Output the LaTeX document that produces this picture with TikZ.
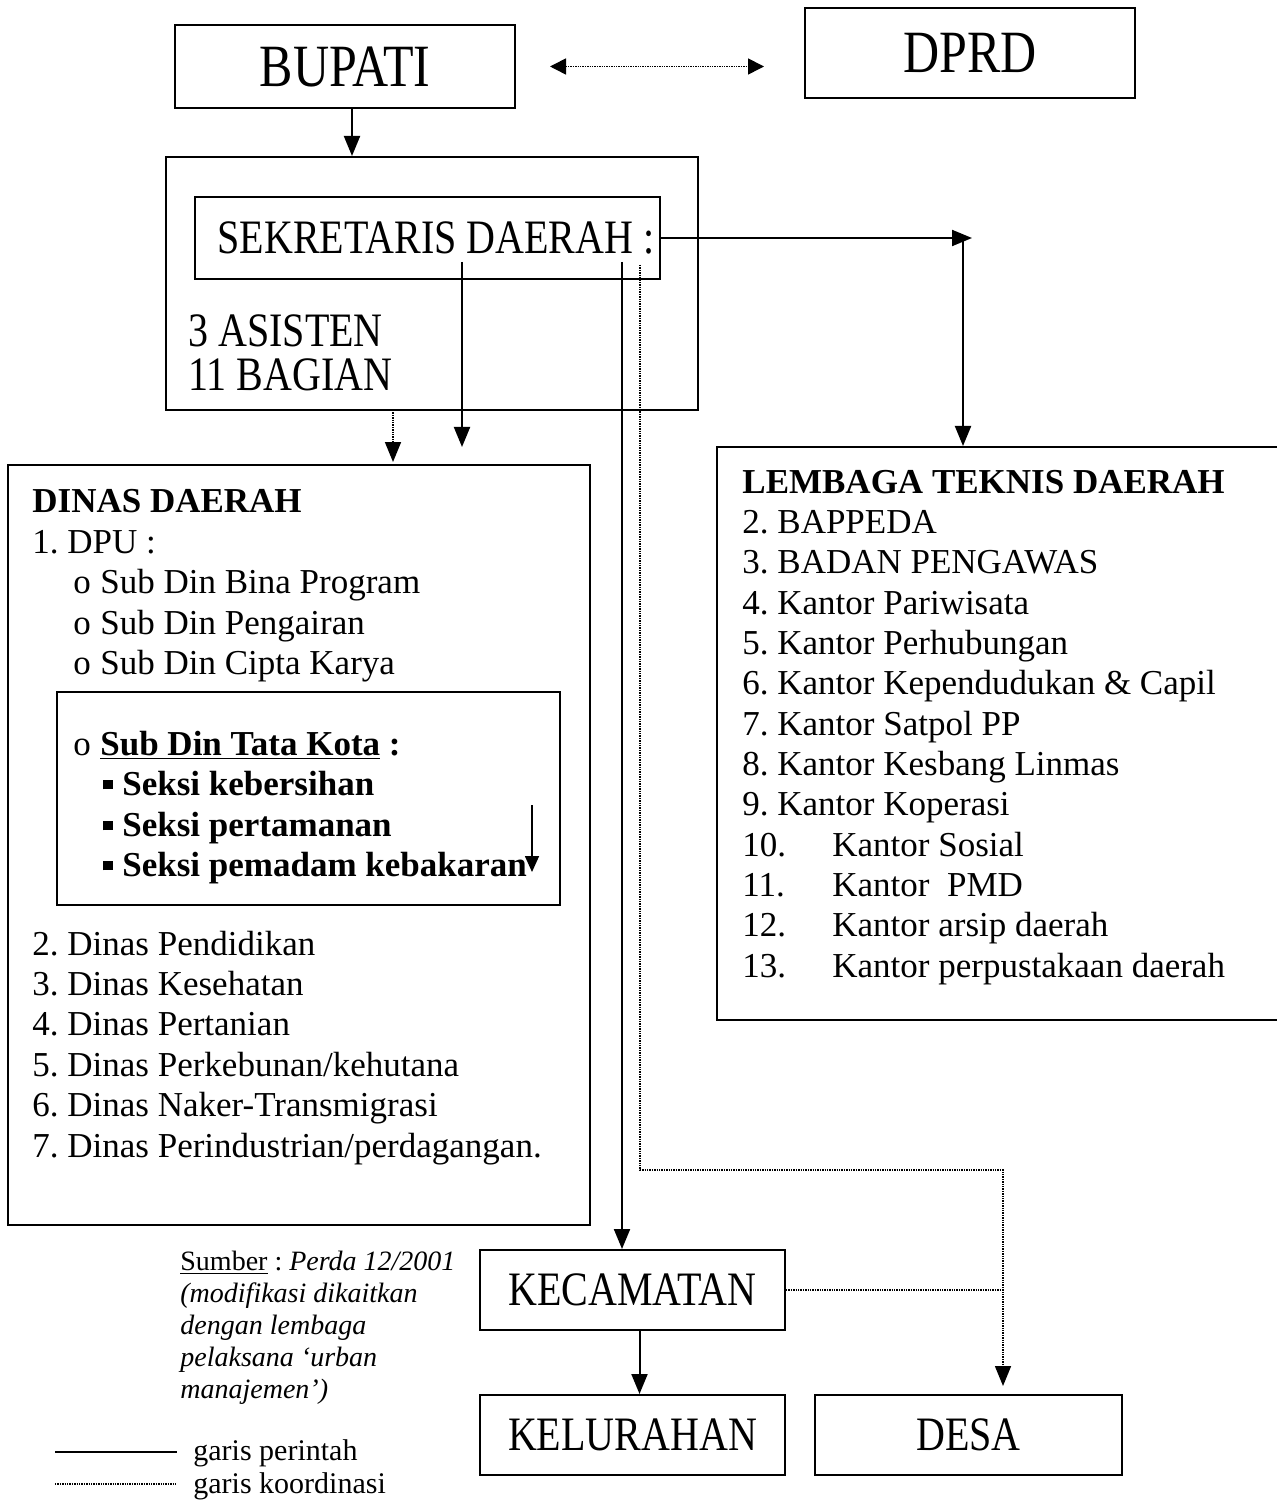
\documentclass[tikz,border=0pt]{standalone}
\usepackage{fontspec}
\setmainfont{Liberation Serif}
\usetikzlibrary{arrows.meta}
\newcommand{\sqbul}{\rule[0.16em]{0.26em}{0.26em}}
\newcommand{\bigtxt}[1]{\scalebox{1}[1.2]{#1}}
\frenchspacing
\begin{document}
\begin{tikzpicture}[x=0.5pt,y=-0.5pt,
  box/.style={draw, line width=1pt, inner sep=0pt},
  cmd/.style={line width=1pt, -{Triangle[length=10pt,width=8pt]}},
  crd/.style={line width=0.8pt, dash pattern=on 0.7pt off 0.5pt},
  txt/.style={inner sep=0pt, anchor=base west, font=\fontsize{17.5}{20}\selectfont},
  btxt/.style={txt, font=\fontsize{17.5}{20}\selectfont\bfseries},
  big/.style={box, font=\fontsize{25}{30}\selectfont},
  mid/.style={box, font=\fontsize{20}{24}\selectfont}]
\useasboundingbox[fill=white] (0,0) rectangle (1276,1502);

% top boxes
\node[big, minimum width=170pt, minimum height=41.5pt] (bupati) at (345,66.5) {\bigtxt{BUPATI}};
\node[big, minimum width=165pt, minimum height=45pt] (dprd) at (970,53) {\bigtxt{DPRD}};

% secretariat
\node[box, minimum width=266pt, minimum height=126.5pt] (sekbig) at (432,283.5) {};
\node[mid, minimum width=232.5pt, minimum height=41pt] (sek) at (427.5,238) {\hspace*{8.5pt}\bigtxt{SEKRETARIS DAERAH :}};
\node[txt, font=\fontsize{20}{24}\selectfont] (asis) at (188,347) {\bigtxt{3 ASISTEN}};
\node[txt, font=\fontsize{20}{24}\selectfont] (bagi) at (188,391) {\bigtxt{11 BAGIAN}};

% dinas daerah
\node[box, minimum width=291pt, minimum height=380pt] (dinas) at (299,845) {};
\node[box, minimum width=251.5pt, minimum height=106.5pt] (tata) at (308.5,798.5) {};
\node[btxt] (dtitle) at (32,512) {DINAS DAERAH};
\node[txt] (dpu) at (32,553) {1. DPU :};
\node[txt] (sd1) at (73,593) {\makebox[13.5pt][l]{o}Sub Din Bina Program};
\node[txt] (sd2) at (73,634) {\makebox[13.5pt][l]{o}Sub Din Pengairan};
\node[txt] (sd3) at (73,674) {\makebox[13.5pt][l]{o}Sub Din Cipta Karya};
\node[txt] (sd4) at (73,755) {\makebox[13.5pt][l]{o}\textbf{\underline{Sub Din Tata Kota} :}};
\node[btxt] (sk1) at (103,795) {\makebox[9.5pt][l]{\sqbul}Seksi kebersihan};
\node[btxt] (sk2) at (103,836) {\makebox[9.5pt][l]{\sqbul}Seksi pertamanan};
\node[btxt] (sk3) at (103,876) {\makebox[9.5pt][l]{\sqbul}Seksi pemadam kebakaran};
\foreach \t [count=\i] in {2. Dinas Pendidikan, 3. Dinas Kesehatan, 4. Dinas Pertanian,
  5. Dinas Perkebunan/kehutana, 6. Dinas Naker-Transmigrasi, 7. Dinas Perindustrian/perdagangan.}
  \node[txt] (dn\i) at (32,{955+40.4*(\i-1)}) {\t};

% lembaga teknis daerah
\node[box, minimum width=281.5pt, minimum height=286.5pt] (lembaga) at (998.5,733.5) {};
\node[btxt] (ltitle) at (742,493) {LEMBAGA TEKNIS DAERAH};
\foreach \t [count=\i] in {2. BAPPEDA, 3. BADAN PENGAWAS, 4. Kantor Pariwisata, 5. Kantor Perhubungan,
  6. Kantor Kependudukan \& Capil, 7. Kantor Satpol PP, 8. Kantor Kesbang Linmas, 9. Kantor Koperasi,
  \makebox[45pt][l]{10.}Kantor Sosial, \makebox[45pt][l]{11.}Kantor\ \ PMD,
  \makebox[45pt][l]{12.}Kantor arsip daerah, \makebox[45pt][l]{13.}Kantor perpustakaan daerah}
  \node[txt] (lt\i) at (742,{533.35+40.35*(\i-1)}) {\t};

% bottom boxes
\node[mid, minimum width=152.5pt, minimum height=40pt] (kec) at (632.5,1290) {\bigtxt{KECAMATAN}};
\node[mid, minimum width=152.5pt, minimum height=40pt] (kel) at (632.5,1435) {\bigtxt{KELURAHAN}};
\node[mid, minimum width=153.5pt, minimum height=40pt] (desa) at (968.5,1435) {\bigtxt{DESA}};

% source note
\node[txt, font=\fontsize{14}{16}\selectfont] (src1) at (180,1270) {\underline{Sumber} : \textit{Perda 12/2001}};
\node[txt, font=\fontsize{14}{16}\selectfont\itshape] (src2) at (180,1302) {(modifikasi dikaitkan};
\node[txt, font=\fontsize{14}{16}\selectfont\itshape] (src3) at (180,1334) {dengan lembaga};
\node[txt, font=\fontsize{14}{16}\selectfont\itshape] (src4) at (180,1366) {pelaksana ‘urban};
\node[txt, font=\fontsize{14}{16}\selectfont\itshape] (src5) at (180,1398) {manajemen’)};

% legend
\coordinate (lg1a) at (55,1452);
\coordinate (lg1b) at (177,1452);
\coordinate (lg2a) at (55,1484);
\coordinate (lg2b) at (177,1484);
\draw[line width=1pt] (lg1a) -- (lg1b);
\draw[crd] (lg2a) -- (lg2b);
\node[txt, font=\fontsize{15}{18}\selectfont] (lgt1) at (193,1460) {garis perintah};
\node[txt, font=\fontsize{15}{18}\selectfont] (lgt2) at (193,1493) {garis koordinasi};

% connectors
\draw[crd, {Triangle[length=8pt,width=8pt]}-{Triangle[length=8pt,width=8pt]}]
  ([xshift=17pt]bupati.east) -- ([xshift=-20pt]bupati.east -| dprd.west);
\draw[cmd] ([xshift=3.5pt]bupati.south) -- ([xshift=3.5pt]bupati.south |- sekbig.north);

\coordinate (c1) at (972,238);
\coordinate (c1v) at (963,238);
\draw[cmd] (sek.east) -- (c1);
\draw[cmd] (c1v) -- (c1v |- lembaga.north);

\coordinate (s1) at (462,262);
\coordinate (a1) at (462,447);
\draw[cmd] (s1) -- (a1);

\coordinate (s0) at (393,410);
\draw[crd, -{Triangle[length=10pt,width=8pt]}] (s0) -- ([yshift=1pt]s0 |- dinas.north);

\coordinate (s2) at (622,262);
\draw[cmd] (s2) -- (s2 |- kec.north);

\coordinate (s3) at (640,265);
\coordinate (k1) at (640,1170);
\coordinate (k2) at (1003,1170);
\draw[crd, -{Triangle[length=10pt,width=8pt]}, shorten >=4pt] (s3) -- (k1) -- (k2) -- (k2 |- desa.north);
\coordinate (k3) at (1003,1290);
\draw[crd] (kec.east) -- (k3);

\draw[cmd] ([xshift=3.5pt]kec.south) -- ([xshift=3.5pt]kec.south |- kel.north);

\coordinate (ta1) at (532,805);
\coordinate (ta2) at (532,872);
\draw[cmd, line width=0.8pt, -{Triangle[length=8pt,width=7pt]}] (ta1) -- (ta2);
\end{tikzpicture}
\end{document}
